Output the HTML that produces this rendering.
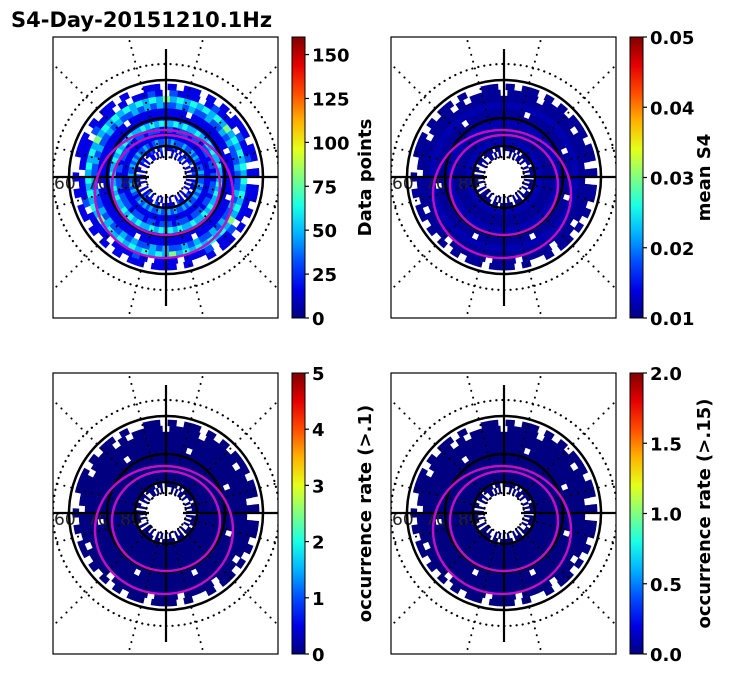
<!DOCTYPE html>
<html><head><meta charset="utf-8">
<style>
html,body{margin:0;padding:0;background:#fff;}
svg{display:block;font-family:"DejaVu Sans","Liberation Sans",sans-serif;}
</style></head>
<body>
<svg id="fig" width="731" height="674" viewBox="0 0 731 674">
<text x="11" y="27" font-size="21" font-weight="bold">S4-Day-20151210.1Hz</text>
</svg>
<script>
// ---- data: rings (inner to outer), 72 sectors each (5 deg, CCW from east); digit = count level, '.' = no data
const ringData = [
  "1.1.1..1.21.1.1..1.1.1.11..1.1..1.11.1..1.12.1..1.1.1.1..1.1.1..1.1.1.",
  "1211.21121.1.12111.21.1211.121.11.21121.1.12111.21.12111.211.121.1121.",
  "2322123232232223232232123223232322322323212323232232232322323223232322",
  "1111111111111111111111111111111111111111111111111111111111111111111111",
  "2122122212212221221222122121222122122212222122212212221222122212212221",
  "3343343433433434334343433434343433433434334343433434343433433434334343",
  "1111111111111111111111111111111111111111111111111111111111111111111111",
  "1111.11111111.1111111111.11111111111.1111111111.111111111.11111111.111",
  "2322232322322323223232322323223232232322323223232232322323223232232322",
  "3434343534343434353434343434353434343434353434343434353434343435343434",
  "1.2112.11121.1112.1211.1.1112.1111.1112.1111.11121.111.1112.112.11111.",
  "1.11.111.1.1.11.1.11..1.11.1.111..1.1.11.1.1.1.11.111.1..1.11.1.1.11."
];
const ringLevelMax = 10;      // digit 0..9 scaled to 0..160
const countMax = 160;
const meanS4Value = [0.011,0.011,0.012,0.011,0.011,0.012,0.011,0.011,0.012,0.011,0.011,0.011];
const rate1Value = [0,0,0,0,0,0,0,0,0,0,0,0];
const rate15Value = [0,0,0,0,0,0,0,0,0,0,0,0];
const cbTicks1 = [0,25,50,75,100,125,150];
const cbTicks2 = ["0.01","0.02","0.03","0.04","0.05"];
const cbTicks3 = [0,1,2,3,4,5];
const cbTicks4 = ["0.0","0.5","1.0","1.5","2.0"];
const latLabels = ["60","70","80"];

const NS="http://www.w3.org/2000/svg";
const svg=document.getElementById('fig');
function mk(t,a,p){const e=document.createElementNS(NS,t);for(const k in a)e.setAttribute(k,a[k]);(p||svg).appendChild(e);return e;}
function jet(v){v=Math.max(0,Math.min(1,v));
  const r=Math.max(0,Math.min(1,1.5-Math.abs(4*v-3))),g=Math.max(0,Math.min(1,1.5-Math.abs(4*v-2))),b=Math.max(0,Math.min(1,1.5-Math.abs(4*v-1)));
  return `rgb(${Math.round(r*255)},${Math.round(g*255)},${Math.round(b*255)})`;}
const rIn=20,rOut=93,nR=ringData.length;
function rScale(i){return rIn+(rOut-rIn)*i/nR;}
function sector(cx,cy,r0,r1,a0,a1){
  const p=(r,a)=>[cx+r*Math.cos(a),cy-r*Math.sin(a)];
  const A=p(r1,a0),B=p(r1,a1),C=p(r0,a1),D=p(r0,a0);
  return `M${A}A${r1},${r1} 0 0 0 ${B}L${C}A${r0},${r0} 0 0 1 ${D}Z`;}

const panels=[
 {x:53,y:37,cb:292,norm:(ri,d)=>d*countMax/ringLevelMax/countMax,ticks:cbTicks1,tmin:0,tmax:160,label:"Data points",name:"data-points"},
 {x:391,y:37,cb:630,norm:(ri,d)=>(meanS4Value[ri]-0.01)/0.04,ticks:cbTicks2,tmin:0.01,tmax:0.05,label:"mean S4",name:"mean-s4"},
 {x:53,y:373,cb:292,norm:(ri,d)=>rate1Value[ri]/5,ticks:cbTicks3,tmin:0,tmax:5,label:"occurrence rate (>.1)",name:"rate-01"},
 {x:391,y:373,cb:630,norm:(ri,d)=>rate15Value[ri]/2,ticks:cbTicks4,tmin:0,tmax:2,label:"occurrence rate (>.15)",name:"rate-015"}
];
const W=225,H=281;
const defs=mk('defs',{});
const lg=mk('linearGradient',{id:'jetg',x1:0,y1:1,x2:0,y2:0},defs);
for(let i=0;i<=10;i++)mk('stop',{offset:i/10,'stop-color':jet(i/10)},lg);

panels.forEach((P,pi)=>{
  const g=mk('g',{});
  
  
  const cp=mk('clipPath',{id:'clip'+pi},defs);mk('rect',{x:P.x,y:P.y,width:W,height:H},cp);
  const inner=mk('g',{'clip-path':`url(#clip${pi})`},g);
  const cx=P.x+113,cy=P.y+140;
  const hm=mk('g',{},inner);
  
  
  ringData.forEach((row,ri)=>{
    const nS=row.length;
    for(let s=0;s<nS;s++){const c=row[s];if(c==='.')continue;
      const d=+c;const a0=s*2*Math.PI/nS,a1=(s+1)*2*Math.PI/nS;
      const e=mk('path',{d:sector(cx,cy,rScale(ri),rScale(ri+1)+0.4,a0-0.005,a1+0.005),fill:jet(P.norm(ri,d))},hm);
      
      }
  });
  latLabels.forEach((t,i)=>{const e=mk('text',{x:P.x+1+i*33,y:cy+12,'font-size':17,fill:'#222'},inner);e.textContent=t;
    
    });
  [20,113].forEach(r=>mk('circle',{cx,cy,r,fill:'none',stroke:'#000','stroke-width':2.2,'stroke-dasharray':'0.1 6','stroke-linecap':'round'},inner));
  for(let k=0;k<12;k++){const a=k*Math.PI/6+Math.PI/12;
    mk('line',{x1:cx+20*Math.cos(a),y1:cy-20*Math.sin(a),x2:cx+170*Math.cos(a),y2:cy-170*Math.sin(a),stroke:'#000','stroke-width':2,'stroke-dasharray':'0.1 7','stroke-linecap':'round'},inner);}
  [31,59,97].forEach(r=>mk('circle',{cx,cy,r,fill:'none',stroke:'#000','stroke-width':2.5},inner));
  mk('line',{x1:cx,y1:P.y+12,x2:cx,y2:cy-17,stroke:'#000','stroke-width':2.2},inner);
  mk('line',{x1:cx,y1:cy+17,x2:cx,y2:P.y+269,stroke:'#000','stroke-width':2.2},inner);
  mk('line',{x1:P.x,y1:cy,x2:cx-17,y2:cy,stroke:'#000','stroke-width':2.2},inner);
  mk('line',{x1:cx+17,y1:cy,x2:P.x+W,y2:cy,stroke:'#000','stroke-width':2.2},inner);
  const o1=mk('ellipse',{cx:cx-2,cy:cy+17,rx:69,ry:64,fill:'none',stroke:'#c010c0','stroke-width':2.5},inner);
  
  
  const o2=mk('ellipse',{cx:cx,cy:cy+8,rx:54,ry:50,fill:'none',stroke:'#c010c0','stroke-width':2.5},inner);
  
  
  mk('rect',{x:P.x,y:P.y,width:W,height:H,fill:'none',stroke:'#000','stroke-width':1.2},g);
  const cb=mk('g',{},g);
  
  
  mk('rect',{x:P.cb,y:P.y,width:13,height:H,fill:'url(#jetg)',stroke:'#000','stroke-width':1},cb);
  P.ticks.forEach(t=>{const v=+t;const y=P.y+H-(v-P.tmin)/(P.tmax-P.tmin)*H;
    mk('line',{x1:P.cb+13,y1:y,x2:P.cb+17,y2:y,stroke:'#000','stroke-width':1.2},cb);
    const e=mk('text',{x:P.cb+20,y:y+7,'font-size':18,'font-weight':'bold'},cb);e.textContent=t;
    
    });
  const lx=P.cb+(pi%2===0?79:80),ly=P.y+H/2;
  const lab=mk('text',{x:lx,y:ly,'font-size':18,'font-weight':'bold','text-anchor':'middle',transform:`rotate(-90 ${lx} ${ly})`},cb);
  lab.textContent=P.label;
  
  
});
</script>
</body></html>
